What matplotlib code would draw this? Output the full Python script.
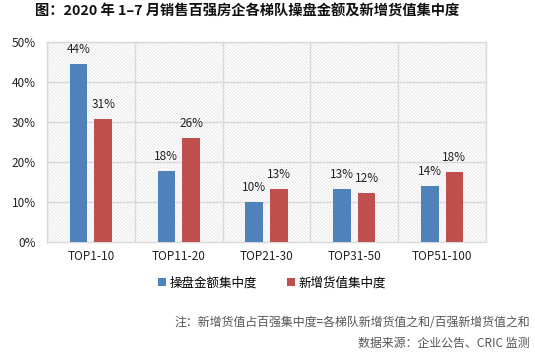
import matplotlib
matplotlib.use("Agg")
import matplotlib.pyplot as plt
from matplotlib.patches import Rectangle
import numpy as np

plt.rcParams['font.family'] = ['Noto Sans CJK SC', 'DejaVu Sans']

categories = ["TOP1-10", "TOP11-20", "TOP21-30", "TOP31-50", "TOP51-100"]
series_names = ["操盘金额集中度", "新增货值集中度"]
operate = [44.4, 17.8, 10.0, 13.2, 14.0]
newvalue = [30.8, 26.0, 13.3, 12.3, 17.5]
op_labels = ["44%", "18%", "10%", "13%", "14%"]
nv_labels = ["31%", "26%", "13%", "12%", "18%"]
yticks = [0, 10, 20, 30, 40, 50]
title = "图：2020 年 1–7 月销售百强房企各梯队操盘金额及新增货值集中度"
note1 = "注：新增货值占百强集中度=各梯队新增货值之和/百强新增货值之和"
note2 = "数据来源：企业公告、CRIC 监测"

blue = "#4f81bd"
red = "#c0504d"
grid = "#d9d9d9"

W, H = 535, 360
fig = plt.figure(figsize=(W/100, H/100), dpi=100)
ax = fig.add_axes([47/W, 1-242/H, (486-47)/W, (242-42)/H])

plt.rcParams['hatch.linewidth'] = 0.5
bg = Rectangle((0, 0), 1, 1, transform=ax.transAxes, facecolor='white',
               edgecolor='#e0e0e0', hatch='\\' * 10, lw=0, zorder=0)
ax.add_patch(bg)

x = np.arange(len(categories))
w = 0.2
off = 0.14
b1 = ax.bar(x - off, operate, w, color=blue, label=series_names[0], zorder=3)
b2 = ax.bar(x + off, newvalue, w, color=red, label=series_names[1], zorder=3)

for xi, v, t in zip(x - off, operate, op_labels):
    ax.text(xi, v + 2.0, t, ha='center', va='bottom', fontsize=8.5, color='#222222', zorder=4)
for xi, v, t in zip(x + off, newvalue, nv_labels):
    ax.text(xi, v + 2.0, t, ha='center', va='bottom', fontsize=8.5, color='#222222', zorder=4)

ax.set_xlim(-0.5, len(categories) - 0.5)
ax.set_ylim(0, 50)
ax.set_yticks(yticks)
ax.set_yticklabels([f"{t}%" for t in yticks], fontsize=8.5, color='#222222')
ax.set_xticks(x)
ax.set_xticklabels(categories, fontsize=8.5, color='#222222')
ax.tick_params(length=0, pad=6)
ax.tick_params(axis='y', pad=8)

for t in yticks[1:]:
    ax.axhline(t, color=grid, lw=1, zorder=1)
for b in np.arange(-0.5, len(categories), 1):
    ax.axvline(b, color=grid, lw=1, zorder=1)
for s in ax.spines.values():
    s.set_color(grid)
    s.set_linewidth(1)

fig.text(247/W, 1-12/H, title, ha='center', va='center', fontsize=10.3, fontweight='bold', color='#111111')

leg = fig.legend(handles=[b1, b2], labels=series_names, loc='center', bbox_to_anchor=(272/W, 1-283/H),
                 ncol=2, frameon=False, fontsize=9, handlelength=0.6, handleheight=0.6,
                 columnspacing=2.4, handletextpad=0.3)

fig.text(530/W, 1-322/H, note1, ha='right', va='center', fontsize=8.6, color='#555555')
fig.text(530/W, 1-343/H, note2, ha='right', va='center', fontsize=8.6, color='#555555')

fig.savefig("out.png", dpi=100)
